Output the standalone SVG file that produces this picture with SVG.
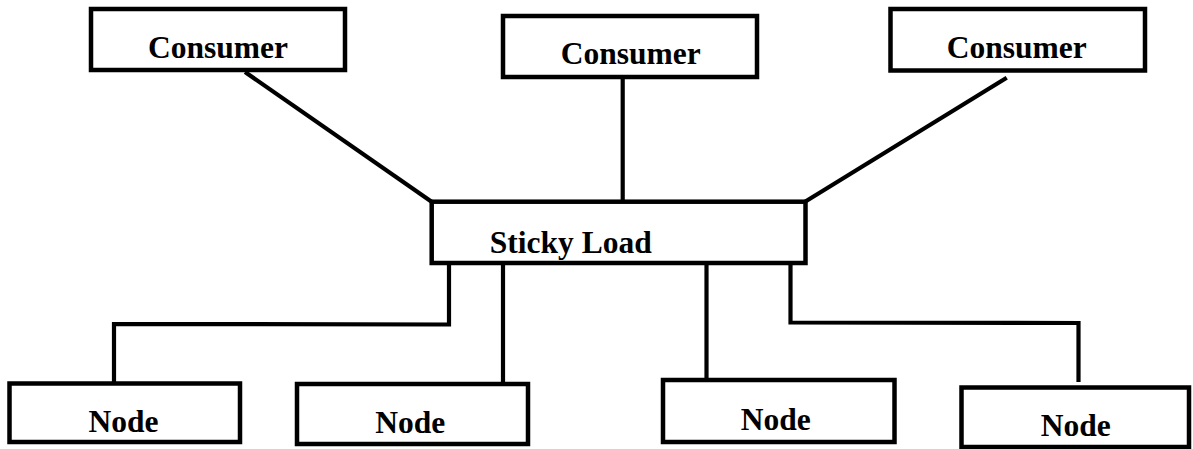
<svg xmlns="http://www.w3.org/2000/svg" width="1193" height="449" viewBox="0 0 1193 449">
  <style>
    .box { fill: #ffffff; stroke: #000000; stroke-width: 4.5; }
    .wire { fill: none; stroke: #000000; stroke-width: 4.2; stroke-linejoin: miter; }
    .label { font-family: "Liberation Serif", "Times New Roman", serif; font-weight: bold; font-size: 31.5px; fill: #000000; text-anchor: middle; }
  </style>
  <rect width="1193" height="449" fill="#ffffff"/>

  <!-- connectors -->
  <g id="connectors">
    <line class="wire" x1="245" y1="72" x2="432" y2="202"/>
    <line class="wire" x1="622.7" y1="77" x2="622.7" y2="202"/>
    <line class="wire" x1="1006.7" y1="77.7" x2="805" y2="201.7"/>
    <polyline class="wire" points="449,265 449,324.5 114,324 114,383.5"/>
    <line class="wire" x1="503" y1="265" x2="503" y2="384"/>
    <line class="wire" x1="706.5" y1="265" x2="706.5" y2="380"/>
    <polyline class="wire" points="790.5,265 790.5,322.5 1078.5,323 1078.5,382"/>
  </g>

  <!-- consumers -->
  <g id="consumer-1">
    <rect class="box" x="91" y="9" width="254" height="61"/>
    <text class="label" x="218" y="58">Consumer</text>
  </g>
  <g id="consumer-2">
    <rect class="box" x="503" y="16" width="254" height="61"/>
    <text class="label" x="630.8" y="64">Consumer</text>
  </g>
  <g id="consumer-3">
    <rect class="box" x="890.5" y="9" width="254.5" height="61.5"/>
    <text class="label" x="1016.7" y="58.3">Consumer</text>
  </g>

  <!-- balancer -->
  <g id="sticky-load">
    <rect class="box" x="431.7" y="201.7" width="373.8" height="61.3"/>
    <text class="label" x="570.8" y="252.7">Sticky Load</text>
  </g>

  <!-- nodes -->
  <g id="node-1">
    <rect class="box" x="9.5" y="383.5" width="230.5" height="58.5"/>
    <text class="label" x="123.5" y="431.7">Node</text>
  </g>
  <g id="node-2">
    <rect class="box" x="297" y="384" width="231" height="60"/>
    <text class="label" x="410.3" y="433.3">Node</text>
  </g>
  <g id="node-3">
    <rect class="box" x="663" y="380" width="231.5" height="62"/>
    <text class="label" x="775.8" y="430">Node</text>
  </g>
  <g id="node-4">
    <rect class="box" x="961.5" y="387.5" width="227.5" height="59.5"/>
    <text class="label" x="1075.7" y="435.7">Node</text>
  </g>
</svg>
